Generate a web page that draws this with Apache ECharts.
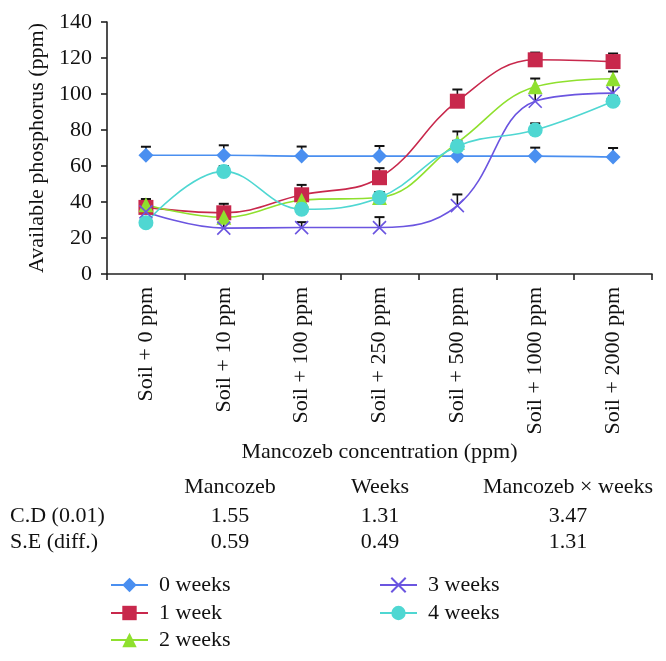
<!DOCTYPE html>
<html>
<head>
<meta charset="utf-8">
<script src="https://cdn.jsdelivr.net/npm/echarts@6/dist/echarts.min.js"></script>
<style>
html,body{margin:0;padding:0;background:#fff;}
#chart{width:666px;height:661px;}
</style>
</head>
<body>
<div id="chart"></div>
<script>
const categories = ['Soil + 0 ppm','Soil + 10 ppm','Soil + 100 ppm','Soil + 250 ppm','Soil + 500 ppm','Soil + 1000 ppm','Soil + 2000 ppm'];
const seriesNames = ['0 weeks','1 week','2 weeks','3 weeks','4 weeks'];
const week0 = [66, 66, 65.5, 65.5, 65.5, 65.5, 65];
const week1 = [37, 34, 44, 53.5, 96, 119, 118];
const week2 = [38.5, 31.5, 41, 42.5, 73, 104, 108.5];
const week3 = [34.5, 25.5, 25.8, 25.8, 38, 96, 100.5];
const week4 = [28.5, 57, 36, 42.5, 71, 80, 96];
const err0 = [4.7, 5.5, 5.3, 5.6, 4.7, 4.7, 5];
const err1 = [4.6, 5, 5.5, 5.3, 6.5, 4, 4.5];
const err2 = [3, 3, 3, 3, 6.2, 4.6, 4];
const err3 = [3, 3, 3, 5.8, 6.2, 5, 5];
const err4 = [3, 3, 3, 3, 3, 3.7, 3];
const yTicks = [0, 20, 40, 60, 80, 100, 120, 140];
const tableHeaders = ['Mancozeb', 'Weeks', 'Mancozeb × weeks'];
const tableRowLabels = ['C.D (0.01)', 'S.E (diff.)'];
const cdValues = ['1.55', '1.31', '3.47'];
const seValues = ['0.59', '0.49', '1.31'];

const values = [week0, week1, week2, week3, week4];
const errs = [err0, err1, err2, err3, err4];
const colors = ['#4a8ff0', '#c8284c', '#8fe02e', '#6b55e0', '#4fd7d2'];
const symbols = ['diamond', 'rect', 'triangle', 'path://M0,0L10,10M10,0L0,10', 'circle'];
const FONT = "'Liberation Serif', 'DejaVu Serif', serif";
const FS = 22;

const chart = echarts.init(document.getElementById('chart'), null, {renderer: 'canvas'});

const errSeries = values.map((vals, si) => ({
  type: 'custom',
  name: 'err' + si,
  silent: true,
  z: 1,
  data: vals.map((v, i) => [i, v, v + errs[si][i]]),
  renderItem: function (params, api) {
    const p0 = api.coord([api.value(0), api.value(1)]);
    const p1 = api.coord([api.value(0), api.value(2)]);
    return {
      type: 'group',
      children: [
        {type: 'line', shape: {x1: p0[0], y1: p0[1], x2: p1[0], y2: p1[1]}, style: {stroke: '#111', lineWidth: 1.6}},
        {type: 'line', shape: {x1: p1[0] - 5, y1: p1[1], x2: p1[0] + 5, y2: p1[1]}, style: {stroke: '#111', lineWidth: 2}}
      ]
    };
  }
}));

const lineSeries = values.map((vals, si) => ({
  type: 'line',
  name: seriesNames[si],
  data: vals,
  smooth: 0.4,
  z: 3,
  symbol: symbols[si],
  symbolSize: si === 3 ? 13 : 15,
  showAllSymbol: true,
  lineStyle: {color: colors[si], width: 1.6},
  itemStyle: si === 3
    ? {color: colors[si], borderColor: colors[si], borderWidth: 1.6}
    : {color: colors[si], borderWidth: 0},
  emphasis: {disabled: true}
}));

const graphics = [];
const colX = [230, 380, 568];
tableHeaders.forEach((t, i) => graphics.push({type: 'text', x: colX[i], y: 487,
  style: {text: t, font: FS + 'px ' + FONT, fill: '#111', align: 'center', verticalAlign: 'middle'}}));
tableRowLabels.forEach((t, r) => graphics.push({type: 'text', x: 10, y: 516 + r * 26,
  style: {text: t, font: FS + 'px ' + FONT, fill: '#111', align: 'left', verticalAlign: 'middle'}}));
[cdValues, seValues].forEach((row, r) => row.forEach((t, i) => graphics.push({type: 'text', x: colX[i], y: 516 + r * 26,
  style: {text: t, font: FS + 'px ' + FONT, fill: '#111', align: 'center', verticalAlign: 'middle'}})));

const legendPos = [[110, 585], [110, 613], [110, 640], [379, 585], [379, 613]];
const legends = seriesNames.map((n, i) => ({
  data: [n],
  left: legendPos[i][0],
  top: legendPos[i][1] - 11,
  padding: 0,
  itemWidth: 37,
  itemHeight: 18,
  textStyle: {fontFamily: FONT, fontSize: FS, lineHeight: 22, color: '#111', padding: [0, 0, 0, 6]},
  selectedMode: false
}));

chart.setOption({
  animation: false,
  backgroundColor: '#fff',
  grid: {left: 107, right: 14, top: 22, bottom: 387, containLabel: false},
  legend: legends,
  xAxis: {
    type: 'category',
    data: categories,
    boundaryGap: true,
    name: 'Mancozeb concentration (ppm)',
    nameLocation: 'middle',
    nameGap: 167,
    nameTextStyle: {fontFamily: FONT, fontSize: FS, color: '#111'},
    axisLine: {lineStyle: {color: '#222', width: 1.6}},
    axisTick: {show: true, alignWithLabel: false, length: 6, lineStyle: {color: '#222', width: 1.6}},
    axisLabel: {rotate: 90, margin: 13, fontFamily: FONT, fontSize: FS, color: '#111', interval: 0},
    splitLine: {show: false}
  },
  yAxis: {
    type: 'value',
    min: yTicks[0],
    max: yTicks[yTicks.length - 1],
    interval: yTicks[1] - yTicks[0],
    name: 'Available phosphorus (ppm)',
    nameLocation: 'middle',
    nameGap: 58,
    nameTextStyle: {fontFamily: FONT, fontSize: FS, color: '#111'},
    axisLine: {show: true, lineStyle: {color: '#222', width: 1.6}},
    axisTick: {show: true, length: 6, lineStyle: {color: '#222', width: 1.6}},
    axisLabel: {margin: 15, fontFamily: FONT, fontSize: FS, color: '#111'},
    splitLine: {show: false}
  },
  graphic: graphics,
  series: errSeries.concat(lineSeries)
});
</script>
</body>
</html>
